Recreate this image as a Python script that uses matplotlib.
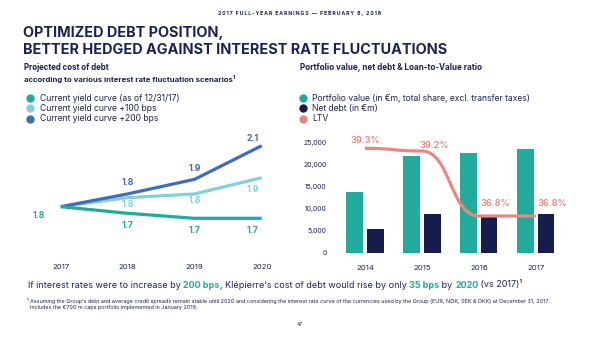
import matplotlib
matplotlib.use("Agg")
import matplotlib.pyplot as plt
from matplotlib.path import Path
from matplotlib.patches import PathPatch
from matplotlib.ticker import FuncFormatter

plt.rcParams['font.family'] = ['Inter', 'DejaVu Sans']

# ---------------- data ----------------
years_left = [2017, 2018, 2019, 2020]
curve_current = [1.80, 1.767, 1.742, 1.742]
curve_plus100 = [1.80, 1.845, 1.864, 1.945]
curve_plus200 = [1.80, 1.864, 1.937, 2.105]
labels_current = ["1.8", "1.7", "1.7", "1.7"]
labels_plus100 = ["1.8", "1.8", "1.9"]
labels_plus200 = ["1.8", "1.9", "2.1"]

years_right = ["2014", "2015", "2016", "2017"]
portfolio_value = [13800, 22000, 22700, 23600]
net_debt = [5300, 8700, 8600, 8900]
ltv = [39.3, 39.2, 36.8, 36.8]
ltv_labels = ["39.3%", "39.2%", "36.8%", "36.8%"]
yticks_right = [0, 5000, 10000, 15000, 20000, 25000]

# ---------------- colours ----------------
NAVY = "#1c2251"
TEAL = "#22ab9c"
LIGHT = "#84d0da"
BLUE = "#3f6cb5"
DEBT = "#171c4c"
SALMON = "#e9877d"
TEXT = "#1e2452"

W, H = 600, 337
fig = plt.figure(figsize=(6, 3.37), dpi=100)
fig.patch.set_facecolor("white")


def fx(x):
    return x / W


def fy(y):
    return 1 - y / H


def ax_px(x0, y0, x1, y1):
    return fig.add_axes([fx(x0), fy(y1), (x1 - x0) / W, (y1 - y0) / H])


# ---------------- header texts ----------------
header = "2017 FULL-YEAR EARNINGS — FEBRUARY 8, 2018"
fig.text(fx(300), fy(14), "\u2009".join(header),
         ha="center", va="center", fontsize=3.75, color=NAVY, fontweight="bold")
fig.text(fx(23), fy(33), "OPTIMIZED DEBT POSITION,", ha="left", va="center",
         fontsize=10.4, color=NAVY, fontweight="bold")
fig.text(fx(23), fy(50), "BETTER HEDGED AGAINST INTEREST RATE FLUCTUATIONS", ha="left",
         va="center", fontsize=10.4, color=NAVY, fontweight="bold")
fig.text(fx(24), fy(67), "Projected cost of debt", ha="left", va="center",
         fontsize=5.7, color=NAVY, fontweight="bold")
fig.text(fx(24), fy(79), "according to various interest rate fluctuation scenarios¹", ha="left",
         va="center", fontsize=5.6, color=NAVY, fontweight="bold")
fig.text(fx(300), fy(67), "Portfolio value, net debt & Loan-to-Value ratio", ha="left",
         va="center", fontsize=5.8, color=NAVY, fontweight="bold")

# legends
left_leg = [("Current yield curve (as of 12/31/17)", TEAL),
            ("Current yield curve +100 bps", LIGHT),
            ("Current yield curve +200 bps", BLUE)]
right_leg = [("Portfolio value (in €m, total share, excl. transfer taxes)", TEAL),
             ("Net debt (in €m)", DEBT),
             ("LTV", SALMON)]
for i, (t, c) in enumerate(left_leg):
    y = 98 + 10.3 * i
    fig.text(fx(40.5), fy(y), t, ha="left", va="center", fontsize=6.2, color=TEXT)
    fig.lines.append(plt.Line2D([fx(29.5)], [fy(y)], marker="o", ms=5, color=c,
                                transform=fig.transFigure, figure=fig))
for i, (t, c) in enumerate(right_leg):
    y = 98 + 10.3 * i
    fig.text(fx(312.5), fy(y), t, ha="left", va="center", fontsize=6.2, color=TEXT)
    fig.lines.append(plt.Line2D([fx(302.5)], [fy(y)], marker="o", ms=5, color=c,
                                transform=fig.transFigure, figure=fig))

# ---------------- left line chart ----------------
axl = ax_px(40, 130, 280, 250)
axl.set_xlim(2016.691, 2020.273)
axl.set_ylim(1.5835, 2.1835)
axl.plot(years_left, curve_current, color=TEAL, lw=2.3, solid_capstyle="butt", zorder=3)
axl.plot(years_left, curve_plus100, color=LIGHT, lw=2.3, solid_capstyle="butt", zorder=2)
axl.plot(years_left, curve_plus200, color=BLUE, lw=2.3, solid_capstyle="butt", zorder=2)
for s in axl.spines.values():
    s.set_visible(False)
axl.set_yticks([])
axl.set_xticks(years_left)
axl.set_xticklabels([str(y) for y in years_left], fontsize=5.6, color=TEXT)
axl.tick_params(axis="x", length=0, pad=10)
axl.patch.set_alpha(0)

lbl_kw = dict(ha="center", va="center", fontsize=6.3, fontweight="bold")
axl.annotate(labels_current[0], (years_left[0], curve_current[0]), xytext=(-21.5, -8.5),
             textcoords="offset pixels", color=TEAL, **lbl_kw)
for x, v, l in zip(years_left[1:], curve_current[1:], labels_current[1:]):
    axl.annotate(l, (x, v), xytext=(0 if x != 2020 else -9.5, -12), textcoords="offset pixels",
                 color=TEAL, **lbl_kw)
for x, v, l in zip(years_left[1:], curve_plus100[1:], labels_plus100):
    axl.annotate(l, (x, v), xytext=(0 if x != 2020 else -9, -7 if x != 2020 else -12),
                 textcoords="offset pixels", color=LIGHT, **lbl_kw)
for x, v, l in zip(years_left[1:], curve_plus200[1:], labels_plus200):
    axl.annotate(l, (x, v), xytext=(0 if x != 2020 else -9, 11 if x != 2020 else 7),
                 textcoords="offset pixels", color=BLUE, **lbl_kw)

# ---------------- right bar chart ----------------
axr = ax_px(335, 130, 575, 252.7)
xs = list(range(len(years_right)))
off, bw = 0.181, 0.293
axr.bar([x - off for x in xs], portfolio_value, width=bw, color=TEAL, zorder=2)
axr.bar([x + off for x in xs], net_debt, width=bw, color=DEBT, zorder=2)
axr.set_xlim(-0.527, 3.69)
axr.set_ylim(0, 27886)
axr.set_xticks(xs)
axr.set_xticklabels(years_right, fontsize=5.6, color=TEXT)
axr.set_yticks(yticks_right)
axr.yaxis.set_major_formatter(FuncFormatter(lambda v, p: f"{int(v):,}"))
axr.tick_params(axis="y", length=0, pad=6, labelsize=5.0, labelcolor=TEXT)
axr.tick_params(axis="x", length=0, pad=8.5)
for s in axr.spines.values():
    s.set_visible(False)
axr.patch.set_alpha(0)

ax2 = axr.twinx()
ax2.set_ylim(35.445, 39.976)
ax2.set_yticks([])
for s in ax2.spines.values():
    s.set_visible(False)
# smooth LTV curve via cubic Bezier segments with horizontal tangents
verts = [(xs[0], ltv[0])]
codes = [Path.MOVETO]
for i in range(1, len(xs)):
    dx = (xs[i] - xs[i - 1]) / 2
    verts += [(xs[i - 1] + dx, ltv[i - 1]), (xs[i] - dx, ltv[i]), (xs[i], ltv[i])]
    codes += [Path.CURVE4] * 3
ax2.add_patch(PathPatch(Path(verts, codes), facecolor="none", edgecolor=SALMON, lw=2.3,
                        capstyle="butt", zorder=3))
ltv_offsets = [(0, 8), (12, 6), (16, 13), (17, 13)]
for x, v, l, o in zip(xs, ltv, ltv_labels, ltv_offsets):
    ax2.annotate(l, (x, v), xytext=o, textcoords="offset pixels", color=SALMON,
                 ha="center", va="center", fontsize=6.6, fontweight="semibold")

# ---------------- bottom sentence ----------------
pieces = [("If interest rates were to increase by ", TEXT, "normal"),
          ("200 bps", TEAL, "bold"),
          (", Klépierre’s cost of debt would rise by only ", TEXT, "normal"),
          ("35 bps", TEAL, "bold"),
          (" by ", TEXT, "normal"),
          ("2020", TEAL, "bold"),
          (" (vs 2017)¹", TEXT, "normal")]
renderer = fig.canvas.get_renderer()
xcur = 28
for txt, col, wt in pieces:
    t = fig.text(fx(xcur), fy(285), txt, ha="left", va="center", fontsize=6.5, color=col,
                 fontweight=wt)
    bb = t.get_window_extent(renderer=renderer)
    xcur += bb.width

fig.text(fx(27), fy(300.5), "¹ Assuming the Group’s debt and average credit spreads remain stable until 2020 and "
         "considering the interest rate curve of the currencies used by the Group (EUR, NOK, SEK & DKK) at December 31, 2017.",
         ha="left", va="center", fontsize=3.95, color=TEXT)
fig.text(fx(30.5), fy(308), "Includes the €700 m caps portfolio implemented in January 2018.",
         ha="left", va="center", fontsize=3.95, color=TEXT)
fig.text(fx(300), fy(324), "47", ha="center", va="center", fontsize=3.6, color=TEXT)

fig.savefig("out.png", dpi=100, facecolor="white")
